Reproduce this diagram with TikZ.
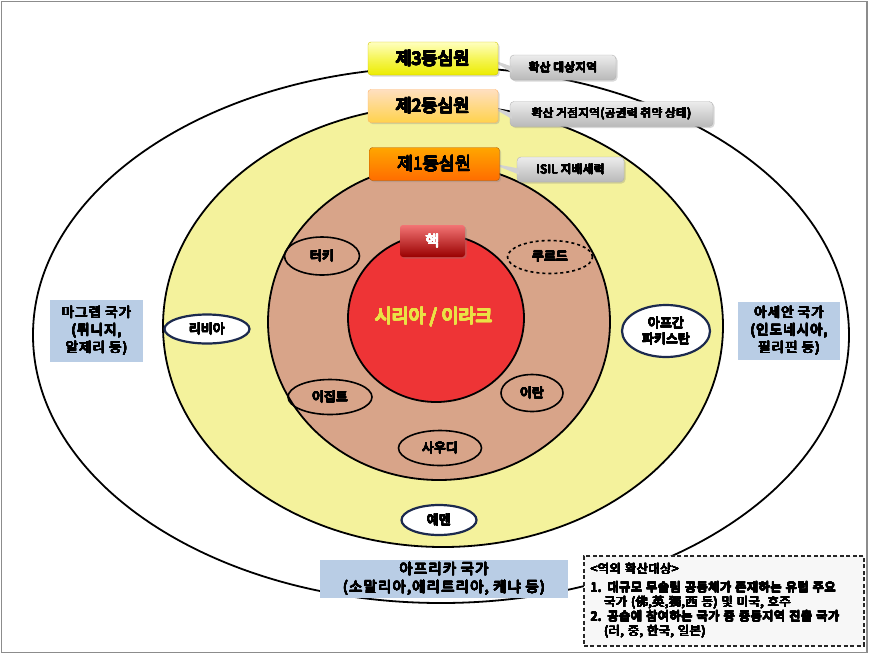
\documentclass[tikz,border=0pt]{standalone}
\usepackage{fontspec}
\setmainfont{Noto Sans CJK KR}
\newfontfamily\wideA{Noto Sans CJK KR}[LetterSpace=8]
\newfontfamily\wideB{Noto Sans CJK KR}[LetterSpace=4]
\usepackage[copies]{contour}
\contourlength{0.4pt}
\contournumber{20}
\newcommand{\hb}[2][black]{\contour{#1}{#2}}
\usetikzlibrary{shapes.geometric,shadows}
\definecolor{ylw}{HTML}{F4F29C}
\definecolor{tanc}{HTML}{D8A489}
\definecolor{redc}{HTML}{EE3436}
\definecolor{navy}{HTML}{1C2A4E}
\definecolor{lblue}{HTML}{B9CDE5}
\definecolor{framec}{HTML}{8C8C8C}
\definecolor{syrtext}{HTML}{EAE246}
\tikzset{
 ring/.style={draw=black, line width=1.8pt},
 lab/.style={rounded corners=3pt, minimum width=130pt, minimum height=33pt, inner sep=0pt,
   font=\fontsize{17.5}{17.5}\selectfont,
   drop shadow={opacity=0.3, shadow xshift=1.5pt, shadow yshift=-1.5pt}},
 callout/.style={rounded corners=4pt, draw=gray!60, top color=gray!15, bottom color=gray!55,
   font=\wideB\fontsize{11.5}{11.5}\selectfont, minimum height=25pt, inner sep=0pt,
   drop shadow={opacity=0.3, shadow xshift=1.5pt, shadow yshift=-1.5pt}},
 pointer/.style={fill=gray!35},
 country/.style={ellipse, draw=black, line width=1.6pt, inner sep=0pt,
   font=\fontsize{13}{13}\selectfont},
 outcountry/.style={country, draw=navy, line width=2.2pt, fill=white},
 bluebox/.style={fill=lblue, align=center, inner sep=0pt,
   font=\wideA\fontsize{13.5}{17.5}\selectfont},
}
\begin{document}
\begin{tikzpicture}[x=1pt,y=-1pt]
\useasboundingbox (0,0) rectangle (869,654);
\fill[white] (0,0) rectangle (869,654);
\draw[framec, line width=1.5pt] (1.5,1.5) rectangle (867,652.5);
% concentric rings
\draw[ring, fill=white] (441,335) ellipse [x radius=408pt, y radius=268pt];
\draw[ring, fill=ylw] (443,326) ellipse [x radius=280pt, y radius=221pt];
\draw[ring, fill=tanc] (439,322) ellipse [x radius=171pt, y radius=158pt];
\draw[ring, fill=redc] (436,318) ellipse [x radius=88pt, y radius=84pt];
% callouts
\node[callout, minimum width=106pt] (g3) at (563,67.5) {\hb{확산 대상지역}};
\node[callout, minimum width=203pt] (g2) at (611.5,114) {\hb{확산 거점지역(공권력 취약 상태)}};
\node[callout, minimum width=107pt] (g1) at (570.5,169.5) {\hb{ISIL 지배세력}};
\coordinate (t3) at (490,59);
\coordinate (t2) at (490,106);
\coordinate (t1) at (490,163);
\fill[pointer] ([xshift=2pt,yshift=1pt]g3.west) -- (t3) -- ([xshift=2pt,yshift=-5pt]g3.west) -- cycle;
\fill[pointer] ([xshift=2pt,yshift=1pt]g2.west) -- (t2) -- ([xshift=2pt,yshift=-5pt]g2.west) -- cycle;
\fill[pointer] ([xshift=2pt,yshift=1pt]g1.west) -- (t1) -- ([xshift=2pt,yshift=-5pt]g1.west) -- cycle;
% ring labels
\node[lab, top color=yellow!25!white, bottom color=yellow!85!olive, draw=yellow!60!olive] (c3) at (433,58.5) {\hb{제3동심원}};
\node[lab, top color=orange!25!white, bottom color=orange!50!yellow!70!white, draw=orange!60] (c2) at (433,106) {\hb{제2동심원}};
\node[lab, top color=orange!70!yellow, bottom color=orange!85!red, draw=orange!70!black] (c1) at (434.5,164) {\hb{제1동심원}};
% core
\node[rounded corners=3pt, minimum width=65pt, minimum height=32pt, inner sep=0pt,
  top color=red!55!white!90!gray, bottom color=red!60!black, text=white,
  font=\fontsize{15}{15}\selectfont,
  drop shadow={opacity=0.35, shadow xshift=1.5pt, shadow yshift=-1.5pt}] (core) at (432.5,241) {\hb[white]{핵}};
\node[text=syrtext, font=\fontsize{18.5}{18.5}\selectfont] (syr) at (434,317) {\hb[syrtext]{시리아 / 이라크}};
% first ring countries
\node[country, minimum width=75pt, minimum height=38pt] (tur) at (322,256) {\hb{터키}};
\node[country, dashed, minimum width=85pt, minimum height=33pt] (kur) at (550,257) {\hb{쿠르드}};
\node[country, minimum width=84pt, minimum height=35pt] (egy) at (330,397) {\hb{이집트}};
\node[country, minimum width=62pt, minimum height=37pt] (irn) at (532,393) {\hb{이란}};
\node[country, minimum width=83pt, minimum height=35pt] (sau) at (440,448) {\hb{사우디}};
% second ring countries
\node[outcountry, minimum width=85pt, minimum height=29pt] (lby) at (207,329) {\hb{리비아}};
\node[outcountry, minimum width=88pt, minimum height=52pt, align=center,
  font=\fontsize{13}{16}\selectfont] (afg) at (666,331) {\hb{아프간}\\\hb{파키스탄}};
\node[outcountry, minimum width=75pt, minimum height=30pt] (yem) at (439,520) {\hb{예멘}};
% third ring regions
\node[bluebox, minimum width=93pt, minimum height=62pt] (mag) at (96.5,331) {\hb{마그렙 국가}\\\hb{(튀니지,}\\\hb{알제리 등)}};
\node[bluebox, minimum width=102pt, minimum height=58pt] (asn) at (789,331) {\hb{아세안 국가}\\\hb{(인도네시아,}\\\hb{필리핀 등)}};
\node[bluebox, minimum width=248pt, minimum height=38pt,
  font=\wideA\fontsize{14.5}{18}\selectfont] (afr) at (444,579) {\hb{아프리카 국가}\\\hb{(소말리아,에리트리아, 케냐 등)}};
% out-of-region box
\node[draw=black!85, dash pattern=on 4pt off 2.5pt, line width=1.5pt, fill=gray!6, anchor=north west,
  minimum width=280pt, minimum height=90pt, inner xsep=7pt, inner ysep=5pt,
  align=left, text width=266pt,
  font=\wideB\fontsize{12.2}{14.5}\selectfont] (ext) at (583,555)
  {\hb{<역외 확산대상>}\\[4pt]
   \hb{1. 대규모 무슬림 공동체가 존재하는 유럽 주요}\\
   \hspace*{1.1em}\hb{국가 (佛,英,獨,西 등) 및 미국, 호주}\\
   \hb{2. 공습에 참여하는 국가 중 중동지역 진출 국가}\\
   \hspace*{1.1em}\hb{(러, 중, 한국, 일본)}};
\end{tikzpicture}
\end{document}
